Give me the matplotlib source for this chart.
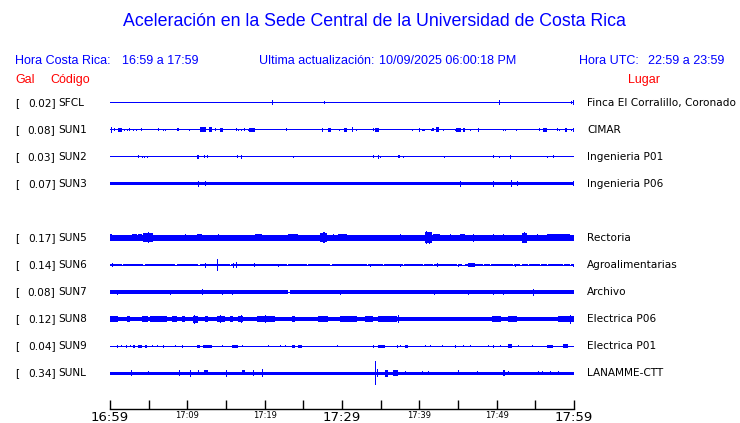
import matplotlib
matplotlib.use("Agg")
import matplotlib.pyplot as plt
from matplotlib.transforms import blended_transform_factory

# ---------------- data ----------------
stations = ["SFCL", "SUN1", "SUN2", "SUN3", "SUN5", "SUN6", "SUN7", "SUN8", "SUN9", "SUNL"]
peak_gal = [0.02, 0.08, 0.03, 0.07, 0.17, 0.14, 0.08, 0.12, 0.04, 0.34]
places = ["Finca El Corralillo, Coronado", "CIMAR", "Ingenieria P01", "Ingenieria P06",
          "Rectoria", "Agroalimentarias", "Archivo", "Electrica P06", "Electrica P01",
          "LANAMME-CTT"]
# background half-amplitude of each trace (pixels of trace height)
base_amp = [0.5, 0.5, 0.5, 1.5, 2.6, 1.3, 1.6, 2.1, 0.5, 1.5]

# bursts: (start minute, end minute, half-amplitude)
sfcl_bursts = [(20.9, 20.9, 2.5), (27.7, 27.7, 1.5), (50.3, 50.3, 2.5), (59.6, 59.6, 1.5), (59.9, 59.9, 2.5)]
sun1_bursts = [(0.1, 0.1, 3), (0.55, 0.55, 1.5), (1.07, 1.51, 2), (1.85, 1.85, 1), (2.16, 2.16, 1),
               (2.5, 2.5, 1.5), (3.0, 3.0, 1), (3.3, 3.3, 1), (4.0, 4.0, 1.5), (6.2, 6.2, 1.5),
               (6.9, 6.9, 1), (7.15, 7.15, 1), (8.6, 8.6, 1.5), (8.8, 8.8, 1.5), (10.25, 10.25, 1),
               (11.7, 12.4, 2.5), (12.85, 13.2, 2.5), (13.6, 13.6, 1.5), (14.2, 14.65, 2),
               (16.3, 16.3, 1.5), (16.6, 16.6, 1), (16.9, 16.9, 1), (17.3, 17.3, 1.5), (17.8, 17.8, 1),
               (18.0, 18.7, 2), (22.7, 22.7, 1.5), (27.4, 27.6, 2), (28.15, 28.6, 2), (29.65, 29.65, 1),
               (30.2, 30.6, 2), (31.25, 31.45, 2.5), (31.8, 31.8, 1), (34.05, 34.05, 1.5),
               (34.3, 34.8, 2), (39.0, 39.0, 1), (39.95, 39.95, 2), (40.4, 40.4, 1), (40.65, 40.65, 1),
               (41.45, 41.45, 1), (41.7, 41.7, 1.5), (42.1, 42.6, 2.5), (43.0, 43.0, 1),
               (44.6, 44.6, 1), (44.8, 45.35, 2), (45.6, 45.9, 2), (46.6, 46.6, 1), (47.55, 47.55, 2),
               (50.85, 50.85, 1), (51.1, 51.1, 1), (52.45, 52.45, 1), (55.45, 55.45, 1.5),
               (56.0, 56.5, 2), (57.75, 57.75, 1.5), (58.1, 58.1, 1), (58.9, 59.1, 2),
               (59.6, 59.6, 1), (59.9, 59.9, 2)]
sun2_bursts = [(3.66, 3.66, 1.5), (4.1, 4.1, 1), (4.43, 4.43, 1), (4.82, 4.82, 1), (11.3, 11.47, 2),
               (12.2, 12.2, 1.5), (12.5, 12.5, 1.5), (16.4, 16.6, 1.5), (16.9, 16.9, 2), (23.7, 23.7, 1),
               (34.05, 34.05, 1.5), (34.6, 34.75, 2), (34.9, 34.9, 1), (37.3, 37.3, 1.5),
               (37.9, 37.9, 1), (43.2, 43.2, 1), (49.55, 49.55, 1.5), (50.35, 50.35, 1),
               (51.7, 51.9, 2), (56.55, 56.55, 1), (57.3, 57.3, 1.5)]
sun3_bursts = [(11.4, 11.4, 3), (12.3, 12.3, 2.5), (45.2, 45.2, 3), (49.55, 49.55, 3),
               (51.8, 51.8, 3.5), (52.65, 52.65, 2.5), (59.9, 59.9, 2.5)]
sun5_bursts = [(0.0, 0.22, 3.5), (0.65, 0.87, 3), (2.81, 3.45, 3.5), (3.66, 4.1, 3.5), (4.31, 5.6, 4.5),
               (5.82, 6.25, 3.2), (7.11, 8.62, 3.2), (9.7, 9.7, 3.5), (11.21, 11.86, 3.5),
               (12.28, 13.15, 3.2), (14.0, 14.0, 3.5), (14.87, 14.87, 3), (16.38, 17.03, 3),
               (17.46, 18.32, 3.2), (18.75, 19.62, 3.5), (20.47, 21.76, 3.2), (23.06, 24.35, 3.5),
               (25.22, 26.08, 3.2), (27.15, 28.02, 4.5), (28.87, 28.87, 3.5), (29.52, 30.6, 3.5),
               (32.33, 33.19, 3), (34.05, 34.49, 3), (35.78, 35.78, 3), (37.5, 37.5, 3.5),
               (40.73, 41.6, 5.5), (41.8, 42.67, 3.5), (43.96, 43.96, 3.5), (45.26, 45.91, 3.5),
               (46.98, 46.98, 4), (49.56, 49.56, 3.5), (50.86, 50.86, 3.5), (53.24, 53.88, 5),
               (55.18, 55.18, 3.5), (56.47, 59.48, 3.5)]
sun5_peaks = [(4.9, 4.9, 5.5), (27.6, 27.6, 5.5), (40.9, 40.9, 6.5), (41.2, 41.2, 6), (53.5, 53.5, 5.5)]
sun6_bursts = [(0.22, 0.22, 2), (12.28, 12.28, 2.5), (13.87, 13.87, 6), (15.87, 15.87, 2.5),
               (16.3, 16.46, 3), (18.66, 18.66, 2), (21.76, 21.76, 1.5), (33.62, 33.62, 1.5),
               (37.5, 37.5, 1.5), (42.25, 42.25, 2), (45.04, 45.04, 1.5), (46.33, 47.2, 2),
               (52.37, 52.37, 1.5), (59.91, 59.91, 1.5)]
sun6_gaps = [(1.51, 1.72), (4.31, 4.53), (8.4, 8.62), (11.42, 11.64), (15.5, 15.6), (22.85, 23.06),
             (25.43, 25.64), (28.45, 28.67), (33.2, 33.3), (35.34, 35.45), (37.93, 38.05),
             (40.51, 40.62), (41.8, 41.9), (44.83, 44.94), (45.48, 45.9), (48.27, 48.38),
             (49.14, 49.25), (52.15, 52.26), (53.02, 53.24), (54.09, 54.2), (55.6, 55.71),
             (56.47, 56.58), (58.62, 58.73), (59.48, 59.59)]
sun7_bursts = [(0.94, 0.94, 2.5), (4.44, 4.44, 2), (7.76, 7.76, 2.5), (8.92, 8.92, 2), (11.86, 11.86, 3),
               (13.06, 13.06, 2), (14.52, 14.52, 2.5), (15.78, 15.78, 2.5), (23.7, 23.7, 2),
               (26.6, 26.6, 2), (29.74, 29.74, 2.5), (34.18, 34.18, 2), (41.93, 41.93, 2.5),
               (44.09, 44.09, 2), (46.25, 46.25, 2.5), (49.49, 49.49, 2.5), (50.86, 50.86, 2.5),
               (53.88, 54.53, 2.2), (54.74, 54.74, 3.5), (57.41, 57.41, 2), (57.97, 57.97, 2)]
sun7_gaps = [(23.06, 23.28)]
sun8_bursts = [(0.0, 1.07, 2.8), (2.16, 2.59, 3.2), (4.1, 4.95, 2.8), (5.17, 7.33, 2.8), (7.98, 8.62, 2.8),
               (9.27, 9.7, 3.2), (10.77, 11.42, 3.5), (12.28, 12.71, 2.8), (13.8, 14.87, 2.8),
               (15.52, 15.95, 3.2), (16.59, 17.24, 3.2), (18.97, 21.34, 2.8), (23.5, 23.92, 2.8),
               (26.94, 28.2, 2.8), (29.74, 31.9, 2.8), (32.97, 34.05, 2.8), (34.69, 37.07, 2.6),
               (37.28, 37.28, 4), (38.15, 38.6, 2.3), (39.6, 40.09, 2.3), (41.8, 42.2, 2.3),
               (43.97, 44.5, 2.3), (45.6, 46.12, 2.3), (46.77, 47.3, 2.3), (48.1, 48.71, 2.3),
               (49.36, 50.5, 2.6), (51.5, 52.59, 2.6), (54.31, 55.0, 2.3), (56.2, 57.32, 2.3),
               (57.97, 60.0, 3.2), (59.48, 59.48, 4.5)]
sun8_peaks = [(10.9, 10.9, 4.5), (14.2, 14.2, 4), (16.9, 16.9, 4), (20.0, 20.0, 3.8)]
sun8_base2 = [(31.0, 60.0, 1.7)]
sun9_bursts = [(0.87, 0.87, 1.5), (1.42, 1.42, 1), (2.03, 2.16, 1.5), (2.59, 2.59, 1), (3.01, 3.23, 1.5),
               (3.66, 4.1, 1.5), (4.53, 4.75, 1.5), (5.39, 5.39, 1), (6.04, 6.04, 1), (6.89, 6.89, 1.5),
               (8.41, 8.41, 1), (9.27, 9.48, 1.5), (11.21, 11.64, 1.5), (12.06, 13.15, 1.5),
               (14.44, 14.44, 1), (15.74, 16.59, 1.5), (17.03, 17.03, 1), (20.47, 20.47, 1),
               (21.98, 21.98, 1), (22.63, 22.63, 1), (23.5, 23.92, 1.5), (24.35, 24.79, 1.5),
               (29.39, 29.39, 1), (34.05, 34.05, 1.5), (34.69, 35.56, 1.5), (37.07, 37.07, 1.5),
               (37.5, 37.5, 1), (38.15, 38.57, 1.5), (40.73, 40.73, 1), (41.38, 41.38, 1),
               (42.89, 42.89, 1), (44.61, 44.61, 1.5), (45.68, 45.68, 1), (46.55, 46.55, 1),
               (48.92, 48.92, 1), (49.56, 49.56, 1.5), (50.43, 50.43, 1), (51.5, 51.94, 2),
               (52.8, 52.8, 1), (54.53, 54.53, 1), (56.47, 57.32, 1.5), (58.62, 59.26, 2)]
sunl_bursts = [(2.72, 2.72, 3), (4.87, 4.87, 2), (8.92, 8.92, 3), (10.34, 10.34, 3.5), (11.42, 11.42, 2.5),
               (12.19, 12.71, 2.5), (14.96, 14.96, 3.5), (17.03, 17.46, 2.5), (18.53, 18.53, 3),
               (19.62, 19.62, 4), (34.27, 34.27, 12), (34.49, 34.49, 4), (35.56, 35.99, 3.5),
               (36.63, 37.28, 3), (38.15, 38.15, 2), (40.3, 40.3, 2), (41.16, 41.16, 2),
               (45.04, 45.04, 2.5), (47.42, 47.42, 2), (50.86, 51.08, 3), (51.5, 51.5, 2),
               (55.38, 55.38, 2), (55.82, 55.82, 2), (56.9, 56.9, 2), (57.97, 57.97, 2)]

bursts = [sfcl_bursts, sun1_bursts, sun2_bursts, sun3_bursts, sun5_bursts + sun5_peaks, sun6_bursts,
          sun7_bursts, sun8_bursts + sun8_peaks, sun9_bursts, sunl_bursts]
gaps = {5: sun6_gaps, 6: sun7_gaps}
base_changes = {7: sun8_base2}

tick_minutes = list(range(0, 61, 5))
tick_labels = {0: "16:59", 10: "17:09", 20: "17:19", 30: "17:29", 40: "17:39", 50: "17:49", 60: "17:59"}
big_ticks = [0, 30, 60]

# ---------------- layout ----------------
W, H = 740, 423
BLUE = "#0000FF"
RED = "#FF0000"
ROW_PX = 27.0
MINW = 0.14

fig = plt.figure(figsize=(W / 100, H / 100), dpi=100)
fig.patch.set_facecolor("white")

x0, x1 = 110, 574
ybot, ytop = 409, 90
ax = fig.add_axes([x0 / W, 1 - ybot / H, (x1 - x0) / W, (ybot - ytop) / H])
first_row_px = 103
ax.set_xlim(0, 60)
ax.set_ylim((ybot - first_row_px) / ROW_PX, (ytop - first_row_px) / ROW_PX)


def slot_of(i):
    return i if i < 4 else i + 1  # SUN4 slot left empty


def band(t0, t1, y, amp, color):
    w = max(t1 - t0, MINW)
    ax.bar(t0, 2 * amp / ROW_PX, width=w, bottom=y - amp / ROW_PX, align="edge",
           color=color, linewidth=0, antialiased=False)


for i, st in enumerate(stations):
    y = slot_of(i)
    segs = [(0.0, 60.0, base_amp[i])]
    if i in base_changes:
        t_change = base_changes[i][0][0]
        segs = [(0.0, t_change, base_amp[i])] + base_changes[i]
    for (a, b, amp) in segs:
        band(a, b, y, amp, BLUE)
    for (a, b) in gaps.get(i, []):
        band(a, b, y, 3.0, "white")
        band(a, b, y, 0.5, BLUE)
    for (a, b, amp) in bursts[i]:
        band(a, b, y, amp, BLUE)

# axis styling
for s in ["top", "left", "right"]:
    ax.spines[s].set_visible(False)
ax.spines["bottom"].set_linewidth(1.0)
ax.set_facecolor("none")
ax.set_yticks([])
ax.set_xticks(tick_minutes)
ax.set_xticklabels([tick_labels.get(t, "") for t in tick_minutes])
ax.tick_params(axis="x", direction="in", length=6.5, width=1.0, pad=1.2, colors="black")
for t, lab in zip(tick_minutes, ax.get_xticklabels()):
    lab.set_family("DejaVu Sans")
    lab.set_fontsize(9.5 if t in big_ticks else 6)

# ---------------- texts ----------------
def fx(px):
    return px / W


def fy(py):
    return 1 - py / H


hf = "Liberation Sans"
HS = 9
fig.text(fx(374), fy(22), "Aceleración en la Sede Central de la Universidad de Costa Rica",
         color=BLUE, fontsize=12.8, family=hf, ha="center", va="center")
fig.text(fx(15), fy(61), "Hora Costa Rica:", color=BLUE, fontsize=HS, family=hf, va="center")
fig.text(fx(122), fy(61), "16:59 a 17:59", color=BLUE, fontsize=HS, family=hf, va="center")
fig.text(fx(259), fy(61), "Ultima actualización:", color=BLUE, fontsize=HS, family=hf, va="center")
fig.text(fx(379), fy(61), "10/09/2025 06:00:18 PM", color=BLUE, fontsize=HS, family=hf, va="center")
fig.text(fx(579), fy(61), "Hora UTC:", color=BLUE, fontsize=HS, family=hf, va="center")
fig.text(fx(648), fy(61), "22:59 a 23:59", color=BLUE, fontsize=HS, family=hf, va="center")
fig.text(fx(15), fy(80), "Gal", color=RED, fontsize=HS, family=hf, va="center")
fig.text(fx(50), fy(80), "Código", color=RED, fontsize=HS, family=hf, va="center")
fig.text(fx(628), fy(80), "Lugar", color=RED, fontsize=HS, family=hf, va="center")

tr = blended_transform_factory(fig.transFigure, ax.transData)
lf = "DejaVu Sans"
LS = 7.6
for i, st in enumerate(stations):
    y = slot_of(i)
    ax.text(fx(15), y, "[", transform=tr, fontsize=LS, family=lf, va="center", ha="left")
    ax.text(fx(55.5), y, f"{peak_gal[i]:.2f}]", transform=tr, fontsize=LS, family=lf,
            va="center", ha="right")
    ax.text(fx(58), y, st, transform=tr, fontsize=LS, family=lf, va="center", ha="left")
    ax.text(fx(587), y, places[i], transform=tr, fontsize=LS, family=lf, va="center", ha="left")

fig.savefig("out.png", dpi=100, facecolor="white")
